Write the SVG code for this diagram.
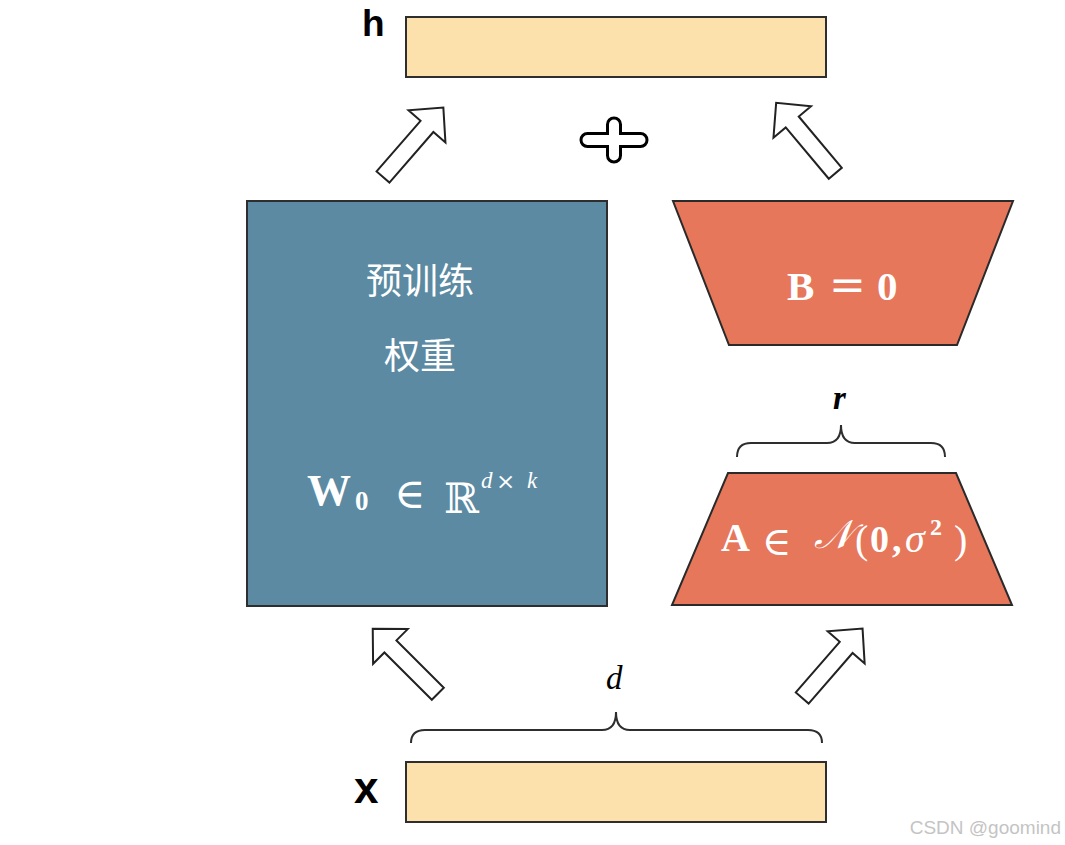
<svg xmlns="http://www.w3.org/2000/svg" width="1065" height="845" viewBox="0 0 1065 845">
<style>
.bar{fill:#fce1ac;stroke:#2e2e2e;stroke-width:2}
.blue{fill:#5b8aa2;stroke:#2e2e2e;stroke-width:2}
.orange{fill:#e6775b;stroke:#2a2a2a;stroke-width:2}
.arrow{fill:#ffffff;stroke:#222;stroke-width:2;stroke-linejoin:miter}
.brace{fill:none;stroke:#2e2e2e;stroke-width:2}
.lbl{font-family:"Liberation Sans",Arial,sans-serif;fill:#000;font-weight:bold}
.cjk{font-family:"Noto Sans CJK SC",sans-serif;fill:#fff;font-size:36px;text-anchor:middle}
.m{font-family:"Liberation Serif","DejaVu Serif",serif;fill:#fff}
.mb{font-family:"Liberation Serif","DejaVu Serif",serif;fill:#fff;font-weight:bold}
.ms{font-family:"DejaVu Serif","DejaVu Sans",serif;fill:#fff}
.mk{font-family:"Liberation Serif","DejaVu Serif",serif;fill:#000}
</style>
<defs>
<path id="arr" d="M0,-8.5 L67,-8.5 L67,-24.5 L92,0 L67,24.5 L67,8.5 L0,8.5 Z"/>
</defs>

<g id="h-vector">
<rect class="bar" x="406" y="17" width="420" height="60"/>
<text class="lbl" x="362" y="36" font-size="37">h</text>
</g>

<g id="x-vector">
<rect class="bar" x="406" y="762" width="420" height="60"/>
<text class="lbl" x="354" y="803" font-size="44">x</text>
</g>

<g id="pretrained-weights">
<rect class="blue" x="247" y="201" width="360" height="405"/>
<text class="cjk" x="420" y="294">预训练</text>
<text class="cjk" x="420" y="369">权重</text>
<text class="mb" x="307" y="505" font-size="44">W</text>
<text class="mb" x="355" y="510" font-size="27">0</text>
<text class="ms" x="394" y="508" font-size="42">∈</text>
<text class="ms" x="444" y="513" font-size="42">ℝ</text>
<text class="m" x="481" y="488" font-size="23" font-style="italic">d</text>
<text class="ms" x="496" y="489" font-size="23">×</text>
<text class="m" x="527" y="488" font-size="23" font-style="italic">k</text>
</g>

<g id="matrix-B">
<polygon class="orange" points="673,201 1013,201 957,345 729,345"/>
<text class="mb" x="787" y="300" font-size="41">B</text>
<text class="ms" x="829" y="300" font-size="44">=</text>
<text class="mb" x="877" y="300" font-size="41">0</text>
</g>

<g id="matrix-A">
<polygon class="orange" points="728,473 956,473 1012,605 672,605"/>
<text class="mb" x="721" y="551" font-size="40">A</text>
<text class="ms" x="762" y="555" font-size="40">∈</text>
<text class="m" x="814" y="548" font-size="40" font-style="italic">𝒩</text>
<text class="m" x="855" y="553" font-size="40">(</text>
<text class="mb" x="870" y="552" font-size="38">0</text>
<text class="mb" x="892" y="552" font-size="38">,</text>
<text class="m" x="905" y="552" font-size="40" font-style="italic">σ</text>
<text class="mb" x="930" y="535" font-size="24">2</text>
<text class="m" x="954" y="553" font-size="40">)</text>
</g>

<g id="rank-brace">
<path class="brace" d="M737,457 Q737,443 751,443 L827,443 Q841,443 841,425 Q841,443 855,443 L931,443 Q945,443 945,457"/>
<text class="mk" x="833" y="409" font-size="33" font-style="italic" font-weight="bold">r</text>
</g>

<g id="dim-brace">
<path class="brace" d="M411,743 Q411,730 425,730 L602,730 Q616,730 616,712 Q616,730 630,730 L808,730 Q822,730 822,743"/>
<text class="mk" x="606" y="689" font-size="33" font-style="italic">d</text>
</g>

<g id="plus">
<path d="M607.5,124.5 A6.5,6.5 0 0 1 620.5,124.5 L620.5,133.5 L640.5,133.5 A6.5,6.5 0 0 1 640.5,146.5 L620.5,146.5 L620.5,155.5 A6.5,6.5 0 0 1 607.5,155.5 L607.5,146.5 L587.5,146.5 A6.5,6.5 0 0 1 587.5,133.5 L607.5,133.5 Z" fill="#fff" stroke="#000" stroke-width="3"/>
</g>

<g id="connectors">
<use href="#arr" class="arrow" transform="translate(383,177) rotate(-49)"/>
<use href="#arr" class="arrow" transform="translate(835.3,173.3) rotate(-130)"/>
<use href="#arr" class="arrow" transform="translate(437.8,693.8) rotate(-135)"/>
<use href="#arr" class="arrow" transform="translate(802.2,698) rotate(-49)"/>
</g>

<text x="1061" y="834" font-family="Liberation Sans,Arial,sans-serif" font-size="19" fill="#c4c4c4" text-anchor="end">CSDN @goomind</text>
</svg>
